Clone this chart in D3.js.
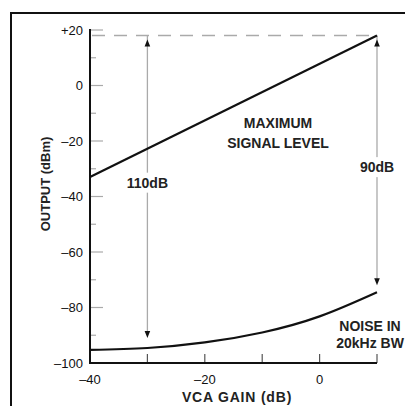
<!DOCTYPE html>
<html>
<head>
<meta charset="utf-8">
<script src="https://cdn.jsdelivr.net/npm/d3@7"></script>
<style>
  html, body { margin: 0; padding: 0; background: #fff; }
  svg { display: block; font-family: "Liberation Sans", Arial, sans-serif; }
</style>
</head>
<body>
<div id="chart"></div>
<script>
// values
const gainTicks = [-40, -30, -20, -10, 0, 10];
const gainLabels = [-40, -20, 0];
const outputMajor = [20, 0, -20, -40, -60, -80, -100];
const outputMinor = [10, -10, -30, -50, -70, -90];

const signalGain = [-40, 10];
const signalLevel = [-33, 18];

const noiseGain = [-40, -30, -20, -10, 0, 10];
const noiseLevel = [-95.3, -94.6, -92.6, -89.0, -83.2, -74.5];

const maxLevel = 18; // dashed reference line
const spanGain = [-30, 10];
const spanTop = [18, 18];
const spanBottom = [-91, -72];
const spanText = ['110dB', '90dB'];
const spanTextAt = [-35, -29.4];

const W = 405, H = 406;
const x = d3.scaleLinear().domain([-40, 10]).range([90, 377]);
const y = d3.scaleLinear().domain([-100, 20]).range([363, 30]);

const svg = d3.select('#chart').append('svg')
    .attr('width', W)
    .attr('height', H);

// outer frame (cut off on right and bottom in the scan)
svg.append('path')
    .attr('d', 'M11,' + (H + 5) + 'V13H' + (W + 5))
    .attr('fill', 'none')
    .attr('stroke', '#111')
    .attr('stroke-width', 2);

// dashed max level line
svg.append('line')
    .attr('x1', x(-40) + 2).attr('x2', x(10))
    .attr('y1', y(maxLevel)).attr('y2', y(maxLevel))
    .attr('stroke', '#aaa')
    .attr('stroke-width', 1.5)
    .attr('stroke-dasharray', '13,9');

// y ticks (inside)
svg.selectAll('.ymaj').data(outputMajor).enter().append('line')
    .attr('x1', x(-40)).attr('x2', x(-40) + 13)
    .attr('y1', (d) => y(d)).attr('y2', (d) => y(d))
    .attr('stroke', '#aaa').attr('stroke-width', 1.2);
svg.selectAll('.ymin').data(outputMinor).enter().append('line')
    .attr('x1', x(-40)).attr('x2', x(-40) + 6)
    .attr('y1', (d) => y(d)).attr('y2', (d) => y(d))
    .attr('stroke', '#aaa').attr('stroke-width', 1.2);

svg.selectAll('.ylab').data(outputMajor).enter().append('text')
    .attr('x', x(-40) - 7)
    .attr('y', (d) => y(d))
    .attr('dy', '0.36em')
    .attr('text-anchor', 'end')
    .attr('font-size', 13)
    .attr('fill', '#111')
    .text((d) => d > 0 ? '+' + d : (d < 0 ? '\u2013' + Math.abs(d) : '0'));

// x ticks (pointing up)
svg.selectAll('.xt').data(gainTicks.slice(1)).enter().append('line')
    .attr('x1', (d) => x(d)).attr('x2', (d) => x(d))
    .attr('y1', y(-100)).attr('y2', y(-100) - 9)
    .attr('stroke', '#555').attr('stroke-width', 1.2);

svg.selectAll('.xlab').data(gainLabels).enter().append('text')
    .attr('x', (d) => x(d))
    .attr('y', y(-100) + 21)
    .attr('text-anchor', 'middle')
    .attr('font-size', 13)
    .attr('fill', '#111')
    .text((d) => d < 0 ? '\u2013' + Math.abs(d) : String(d));

// axis lines
svg.append('line')
    .attr('x1', x(-40)).attr('x2', x(-40))
    .attr('y1', y(20) - 1).attr('y2', y(-100) + 1)
    .attr('stroke', '#111').attr('stroke-width', 2);
svg.append('line')
    .attr('x1', x(-40) - 1).attr('x2', x(10))
    .attr('y1', y(-100)).attr('y2', y(-100))
    .attr('stroke', '#111').attr('stroke-width', 2);

// axis titles
svg.append('text')
    .attr('x', 237).attr('y', 402)
    .attr('text-anchor', 'middle')
    .attr('font-size', 14).attr('font-weight', 'bold')
    .attr('letter-spacing', 0.8)
    .attr('fill', '#222')
    .text('VCA GAIN (dB)');
svg.append('text')
    .attr('transform', 'translate(50,184) rotate(-90)')
    .attr('text-anchor', 'middle')
    .attr('font-size', 13).attr('font-weight', 'bold')
    .attr('fill', '#222')
    .text('OUTPUT (dBm)');

// span arrows
spanGain.forEach((g, i) => {
  const px = x(g);
  const yTop = y(spanTop[i]);
  const yBot = y(spanBottom[i]);
  svg.append('line')
      .attr('x1', px).attr('x2', px)
      .attr('y1', yTop).attr('y2', yBot - 3)
      .attr('stroke', '#aaa').attr('stroke-width', 1.3);
  svg.append('path')
      .attr('d', 'M' + px + ',' + (yTop + 4) + 'l-2.8,7h5.6z')
      .attr('fill', '#111');
  svg.append('path')
      .attr('d', 'M' + px + ',' + yBot + 'l-2.8,-7h5.6z')
      .attr('fill', '#111');
  const t = svg.append('text')
      .attr('x', px).attr('y', y(spanTextAt[i]))
      .attr('dy', '0.36em')
      .attr('text-anchor', 'middle')
      .attr('font-size', 14).attr('font-weight', 'bold')
      .attr('fill', '#222')
      .text(spanText[i]);
  const bb = t.node().getBBox();
  svg.insert('rect', function() { return t.node(); })
      .attr('x', bb.x - 2).attr('y', bb.y - 2)
      .attr('width', bb.width + 4).attr('height', bb.height + 4)
      .attr('fill', '#fff');
});

// signal line
const sig = signalGain.map((g, i) => [g, signalLevel[i]]);
svg.append('path')
    .datum(sig)
    .attr('fill', 'none')
    .attr('stroke', '#111')
    .attr('stroke-width', 2.2)
    .attr('d', d3.line().x((d) => x(d[0])).y((d) => y(d[1])));

// noise curve
const noise = noiseGain.map((g, i) => [g, noiseLevel[i]]);
svg.append('path')
    .datum(noise)
    .attr('fill', 'none')
    .attr('stroke', '#111')
    .attr('stroke-width', 2.2)
    .attr('d', d3.line().x((d) => x(d[0])).y((d) => y(d[1])).curve(d3.curveNatural));

// annotations
const note = (lines, cx, cy, gap) => {
  lines.forEach((s, i) => {
    svg.append('text')
        .attr('x', cx).attr('y', cy + i * gap)
        .attr('dy', '0.36em')
        .attr('text-anchor', 'middle')
        .attr('font-size', 14).attr('font-weight', 'bold')
        .attr('fill', '#222')
        .text(s);
  });
};
note(['MAXIMUM', 'SIGNAL LEVEL'], 278, 123, 20);
note(['NOISE IN', '20kHz BW'], 370, 326, 17);
</script>
</body>
</html>
